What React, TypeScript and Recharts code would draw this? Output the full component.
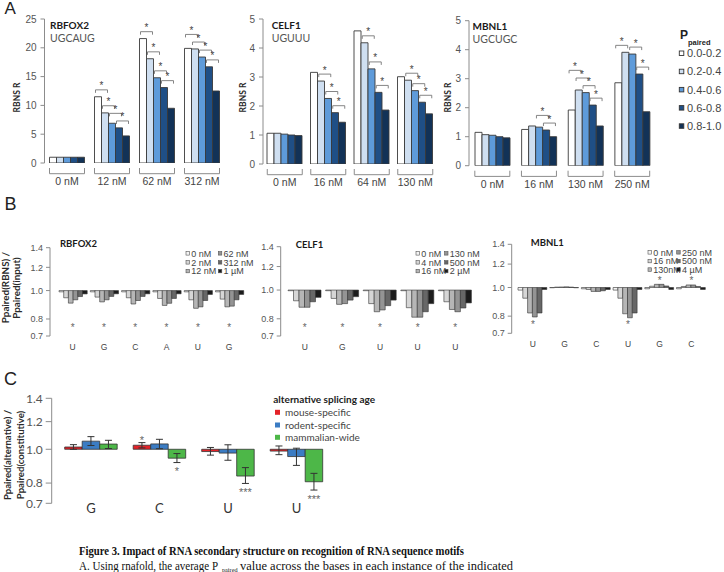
import React from 'react';
import { ComposedChart, Bar, XAxis, YAxis, Scatter, ErrorBar } from 'recharts';

const SANS = '"Liberation Sans", Arial, sans-serif';
const HUM = 'Lato, "Open Sans", sans-serif';
const SERIF = '"Liberation Serif", "Times New Roman", serif';

/* ---------- A: RBNS R per Ppaired bin ---------- */
const pairedBins = ['0.0-0.2', '0.2-0.4', '0.4-0.6', '0.6-0.8', '0.8-1.0'];
const binColors = ['#ffffff', '#cfdff1', '#5e9bda', '#1f4f86', '#123257'];

const rbfox2Conc = ['0 nM', '12 nM', '62 nM', '312 nM'];
const rbfox2R = [
  [1, 1, 1, 1, 1],
  [11.5, 8.7, 6.9, 6.1, 4.7],
  [21.6, 18.1, 14.8, 13.1, 9.5],
  [19.9, 19.8, 18.4, 16.7, 12.5],
];
const rbfox2Sig = [[], [0, 1, 2, 3], [0, 1, 2, 3], [0, 1, 2, 3]];

const celf1Conc = ['0 nM', '16 nM', '64 nM', '130 nM'];
const celf1R = [
  [1.06, 1.06, 1.03, 1.0, 0.98],
  [3.16, 2.86, 2.26, 1.77, 1.44],
  [4.59, 4.18, 3.28, 2.47, 1.86],
  [3.01, 2.89, 2.53, 2.13, 1.73],
];
const celf1Sig = [[], [1, 2, 3], [1, 2, 3], [1, 2, 3]];

const mbnl1Conc = ['0 nM', '16 nM', '130 nM', '250 nM'];
const mbnl1R = [
  [1.15, 1.07, 1.05, 1.0, 0.96],
  [1.25, 1.37, 1.33, 1.23, 1.0],
  [1.92, 2.61, 2.52, 2.09, 1.37],
  [2.86, 3.91, 3.85, 3.16, 1.86],
];
const mbnl1Sig = [[], [2, 3], [0, 1, 2, 3], [0, 2, 3]];

/* ---------- B: Ppaired(RBNS) / Ppaired(input) per motif base ---------- */
const doseGrays = ['#f4f4f4', '#d6d6d6', '#b6b6b6', '#949494', '#676767', '#1c1c1c'];

const rbfox2Bases = ['U', 'G', 'C', 'A', 'U', 'G'];
const rbfox2Doses = ['0 nM', '2 nM', '12 nM', '62 nM', '312 nM', '1 µM'];
const rbfox2Ratio = [
  [0.99, 0.945, 0.906, 0.93, 0.954, 0.974],
  [0.99, 0.95, 0.915, 0.93, 0.955, 0.975],
  [0.99, 0.945, 0.9, 0.925, 0.955, 0.975],
  [0.99, 0.94, 0.89, 0.905, 0.94, 0.975],
  [0.99, 0.93, 0.87, 0.88, 0.925, 0.97],
  [0.99, 0.935, 0.88, 0.885, 0.93, 0.97],
];
const rbfox2Marks = ['low', 'low', 'low', 'low', 'low', 'low'];

const celf1Bases = ['U', 'G', 'U', 'U', 'U'];
const celf1Doses = ['0 nM', '4 nM', '16 nM', '130 nM', '500 nM', '2 µM'];
const celf1Ratio = [
  [0.995, 0.92, 0.875, 0.875, 0.913, 0.945],
  [0.995, 0.937, 0.895, 0.9, 0.925, 0.95],
  [0.995, 0.9, 0.845, 0.857, 0.886, 0.925],
  [0.995, 0.872, 0.81, 0.81, 0.845, 0.9],
  [0.995, 0.913, 0.86, 0.845, 0.87, 0.905],
];
const celf1Marks = ['low', 'low', 'low', 'low', 'low'];

const mbnl1Bases = ['U', 'G', 'C', 'U', 'G', 'C'];
const mbnl1Doses = ['0 nM', '16 nM', '130nM', '250 nM', '500 nM', '4 µM'];
const mbnl1Ratio = [
  [0.98, 0.92, 0.82, 0.795, 0.82, 0.985],
  [0.998, 1.003, 1.004, 1.005, 1.003, 0.998],
  [0.99, 0.985, 0.97, 0.97, 0.975, 0.985],
  [0.98, 0.92, 0.815, 0.79, 0.82, 0.985],
  [0.99, 1.01, 1.025, 1.025, 1.012, 0.985],
  [0.99, 1.008, 1.02, 1.02, 1.008, 0.985],
];
const mbnl1Marks = ['low', '', '', 'low', 'high', 'high'];

const STAR_LOW = 0.762;
const STAR_HIGH = 1.077;
const ratioTicks = [0.7, 0.8, 1.0, 1.2, 1.4];

/* ---------- C: Ppaired(alternative) / Ppaired(constitutive) ---------- */
const spliceAges = ['mouse-specific', 'rodent-specific', 'mammalian-wide'];
const ageColors = ['#e42228', '#3b7cc3', '#4db748'];
const cBases = ['G', 'C', 'U', 'U'];
const cRatio = [
  [1.015, 1.027, 0.985, 0.988],
  [1.055, 1.036, 0.975, 0.953],
  [1.035, 0.943, 0.838, 0.807],
];
const cLow = [
  [1.0, 1.009, 0.962, 0.965],
  [1.025, 1.004, 0.93, 0.899],
  [1.005, 0.916, 0.798, 0.764],
];
const cHigh = [
  [1.031, 1.045, 1.012, 1.022],
  [1.087, 1.068, 1.03, 1.007],
  [1.061, 0.972, 0.886, 0.853],
];
const cSig = [
  ['', '*', '', ''],
  ['', '', '', ''],
  ['', '*', '***', '***'],
];

/* ---------- helpers ---------- */
function buildRowsA(conc: string[], vals: number[][], sig: number[][], max: number) {
  const d = max * 0.048;
  return conc.map((c, gi) => {
    const v = vals[gi];
    const row: any = { conc: c };
    v.forEach((x, i) => (row['p' + i] = x));
    // brackets are stacked right-to-left so neighbouring ones clear each other
    let next = -Infinity;
    for (let k = 3; k >= 0; k--) {
      if (sig[gi].includes(k)) {
        const lvl = Math.max(Math.max(v[k], v[k + 1]) + d, next + d * 1.1);
        row['b' + k] = lvl;
        next = lvl;
      } else {
        row['b' + k] = null;
        next = -Infinity;
      }
    }
    return row;
  });
}

function GroupTick(props: any) {
  const { x, y, payload, span } = props;
  const l = x - span / 2;
  const r = x + span / 2;
  return (
    <g>
      <path d={`M${l},${y + 5}V${y + 10.7}H${r}V${y + 5}`} fill="none" stroke="#8c8c8c" strokeWidth={1} />
      <text x={x} y={y + 21.8} textAnchor="middle" fontSize={10.5} fill="#444" fontFamily={SANS}>
        {payload.value}
      </text>
    </g>
  );
}

function SigBracket(props: any) {
  const { cx, cy, k, w, payload } = props;
  if (!payload || payload['b' + k] == null || !Number.isFinite(cx) || !Number.isFinite(cy)) return <g />;
  const x1 = cx + (k - 2) * w - 2.5;
  const x2 = cx + (k - 1) * w + 2.5;
  return (
    <g>
      <path d={`M${x1},${cy + 3}V${cy}H${x2}V${cy + 3}`} fill="none" stroke="#777" strokeWidth={0.9} />
      <text x={(x1 + x2) / 2} y={cy - 0.5} textAnchor="middle" fontSize={10} fill="#444" fontFamily={SANS}>
        *
      </text>
    </g>
  );
}

const panelA = [
  { conc: rbfox2Conc, vals: rbfox2R, sig: rbfox2Sig, max: 25, ticks: [0, 5, 10, 15, 20, 25],
    left: 0, top: 0, width: 240, height: 200, yw: 44.5, margin: { top: 19, right: 15.5, bottom: 7, left: 0 } },
  { conc: celf1Conc, vals: celf1R, sig: celf1Sig, max: 5, ticks: [0, 1, 2, 3, 4, 5],
    left: 220, top: 0, width: 240, height: 200, yw: 43, margin: { top: 19, right: 23, bottom: 6, left: 0 } },
  { conc: mbnl1Conc, vals: mbnl1R, sig: mbnl1Sig, max: 5, ticks: [0, 1, 2, 3, 4, 5],
    left: 430, top: 0, width: 235, height: 200, yw: 39, margin: { top: 20.7, right: 9.5, bottom: 4.3, left: 0 } },
];

function EnrichmentChart({ conf }: { conf: any }) {
  const rows = buildRowsA(conf.conc, conf.vals, conf.sig, conf.max);
  const bw = 7;
  return (
    <div style={{ position: 'absolute', left: conf.left, top: conf.top }}>
      <ComposedChart width={conf.width} height={conf.height} data={rows} margin={conf.margin} barSize={bw} barGap={0}>
        <XAxis dataKey="conc" interval={0} axisLine={false} tickLine={false} tickSize={0} tickMargin={0} height={30}
          tick={(p: any) => <GroupTick {...p} span={bw * 5} />} />
        <YAxis type="number" domain={[0, conf.max]} ticks={conf.ticks} interval={0} width={conf.yw} allowDataOverflow
          stroke="#8c8c8c" tickSize={4} tickMargin={4} tick={{ fontSize: 10, fill: '#555', fontFamily: SANS }} />
        {pairedBins.map((b, i) => (
          <Bar key={b} dataKey={'p' + i} fill={binColors[i]} stroke="#3a3a3a" strokeWidth={0.9} isAnimationActive={false} />
        ))}
        {[0, 1, 2, 3].map((k) => (
          <Scatter key={k} dataKey={'b' + k} isAnimationActive={false}
            shape={(p: any) => <SigBracket {...p} k={k} w={bw} />} />
        ))}
      </ComposedChart>
    </div>
  );
}

const panelB = [
  { title: 'RBFOX2', bases: rbfox2Bases, ratios: rbfox2Ratio, marks: rbfox2Marks, doses: rbfox2Doses,
    left: 0, top: 225, width: 251, height: 135, yw: 50, xh: 24, pad: 7, bar: 4.7,
    margin: { top: 22.7, right: 6.2, bottom: 0, left: 0 },
    titleX: 60, titleY: 246.6, legX: [186, 218.3], legY: [253.3, 262.3, 271] },
  { title: 'CELF1', bases: celf1Bases, ratios: celf1Ratio, marks: celf1Marks, doses: celf1Doses,
    left: 251, top: 225, width: 240, height: 135, yw: 29.7, xh: 24, pad: 5.3, bar: 5.5,
    margin: { top: 21.7, right: 17, bottom: 0, left: 0 },
    titleX: 295.7, titleY: 247.6, legX: [416, 444.5], legY: [253.3, 262.3, 271] },
  { title: 'MBNL1', bases: mbnl1Bases, ratios: mbnl1Ratio, marks: mbnl1Marks, doses: mbnl1Doses,
    left: 485, top: 225, width: 239, height: 135, yw: 26.7, xh: 26.7, pad: 5.3, bar: 4.8,
    margin: { top: 19.3, right: 16.8, bottom: 0, left: 0 },
    titleX: 530.7, titleY: 245.6, legX: [648, 676.7], legY: [252.3, 261, 269.5] },
];

function BaseTick(props: any) {
  const { x, y, index, bases } = props;
  return (
    <text x={x} y={y + 14} textAnchor="middle" fontSize={8.5} fill="#444" fontFamily={SANS}>
      {bases[index]}
    </text>
  );
}

function StarMark(props: any) {
  const { cx, cy, payload, field, label, dx, size } = props;
  if (!payload || payload[field] == null || !Number.isFinite(cy) || !Number.isFinite(cx)) return <g />;
  const fs = size || 10;
  return (
    <text x={cx + (dx || 0)} y={cy + fs * 0.57} textAnchor="middle" fontSize={fs} fill="#666" fontFamily={SANS}>
      {label}
    </text>
  );
}

function StructureChart({ conf }: { conf: any }) {
  const rows = conf.bases.map((b: string, i: number) => {
    const r: any = { key: String(i), base: b };
    r.star = conf.marks[i] === 'low' ? STAR_LOW : conf.marks[i] === 'high' ? STAR_HIGH : null;
    conf.ratios[i].forEach((v: number, j: number) => (r['s' + j] = [1, v]));
    return r;
  });
  return (
    <div style={{ position: 'absolute', left: conf.left, top: conf.top }}>
      <ComposedChart width={conf.width} height={conf.height} data={rows} margin={conf.margin} barSize={conf.bar} barGap={0}>
        <XAxis dataKey="key" interval={0} axisLine={false} tickLine={false} tickSize={0} tickMargin={0}
          height={conf.xh} padding={{ left: conf.pad, right: 0 }}
          tick={(p: any) => <BaseTick {...p} bases={conf.bases} />} />
        <YAxis type="number" scale="log" domain={[0.7, 1.4]} ticks={ratioTicks} interval={0} width={conf.yw}
          allowDataOverflow stroke="#8c8c8c" tickSize={4} tickMargin={3}
          tickFormatter={(v: number) => v.toFixed(1)}
          tick={{ fontSize: 9, fill: '#555', fontFamily: SANS }} />
        {doseGrays.map((c, j) => (
          <Bar key={j} dataKey={'s' + j} fill={c} stroke="#333" strokeWidth={0.6} isAnimationActive={false} />
        ))}
        <Scatter dataKey="star" isAnimationActive={false}
          shape={(p: any) => <StarMark {...p} field="star" label="*" size={10} />} />
      </ComposedChart>
    </div>
  );
}

function AgeChart() {
  const bw = 17.5;
  const rows = cBases.map((b, i) => {
    const r: any = { key: String(i), base: b };
    spliceAges.forEach((_, s) => {
      const v = cRatio[s][i];
      r['r' + s] = [1, v];
      r['e' + s] = [v - cLow[s][i], cHigh[s][i] - v];
      r['t' + s] = cSig[s][i] ? (v >= 1 ? cHigh[s][i] * 1.03 : cLow[s][i] * 0.957) : null;
    });
    return r;
  });
  return (
    <div style={{ position: 'absolute', left: 0, top: 380 }}>
      <ComposedChart width={340} height={140} data={rows} margin={{ top: 18.3, right: 9.3, bottom: 0, left: 0 }}
        barSize={bw} barGap={0}>
        <XAxis dataKey="key" interval={0} axisLine={false} tickLine={false} tickSize={0} tickMargin={0}
          height={16.7} padding={{ left: 5, right: 0 }}
          tick={(p: any) => (
            <text x={p.x} y={p.y + 9.6} textAnchor="middle" fontSize={13} fill="#333" fontFamily={HUM}>
              {cBases[p.index]}
            </text>
          )} />
        <YAxis type="number" scale="log" domain={[0.7, 1.4]} ticks={ratioTicks} interval={0} width={51.7}
          allowDataOverflow stroke="#8c8c8c" tickSize={6} tickMargin={3}
          tickFormatter={(v: number) => v.toFixed(1)}
          tick={{ fontSize: 12, fill: '#555', fontFamily: HUM }} />
        {spliceAges.map((a, s) => (
          <Bar key={a} dataKey={'r' + s} fill={ageColors[s]} stroke="#333" strokeWidth={0.8} isAnimationActive={false}>
            <ErrorBar dataKey={'e' + s} width={3.5} strokeWidth={1} stroke="#333" direction="y" />
          </Bar>
        ))}
        {spliceAges.map((a, s) => (
          <Scatter key={'t' + a} dataKey={'t' + s} isAnimationActive={false}
            shape={(p: any) => (
              <StarMark {...p} field={'t' + s} label={p.payload ? cSig[s][Number(p.payload.key)] : ''}
                dx={(s - 1) * bw} size={11} />
            )} />
        ))}
      </ComposedChart>
    </div>
  );
}

function RotLabel({ x, y, text, size, weight }: any) {
  return (
    <text transform={`translate(${x},${y}) rotate(-90)`} textAnchor="middle" dominantBaseline="central"
      fontSize={size} fontWeight={weight || 700} fill="#2a2a2a" fontFamily={HUM}>
      {text}
    </text>
  );
}

const aTitles = [
  { name: 'RBFOX2', motif: 'UGCAUG', x: 50, y: 28.6, lx: 17 },
  { name: 'CELF1', motif: 'UGUUU', x: 271.7, y: 28.6, lx: 243 },
  { name: 'MBNL1', motif: 'UGCUGC', x: 472.5, y: 30.3, lx: 447.5 },
];

function Overlay() {
  return (
    <svg width={724} height={572} style={{ position: 'absolute', left: 0, top: 0, pointerEvents: 'none' }}>
      {/* panel letters */}
      <text x={4.5} y={13.5} fontSize={17} fill="#222" fontFamily={SANS}>A</text>
      <text x={4.5} y={210} fontSize={18} fill="#222" fontFamily={SANS}>B</text>
      <text x={4} y={385} fontSize={18} fill="#222" fontFamily={SANS}>C</text>

      {/* A: titles, motifs, axis labels */}
      {aTitles.map((t) => (
        <g key={t.name}>
          <text x={t.x} y={t.y} fontSize={10} fontWeight={700} fill="#1a1a1a" fontFamily={HUM}>{t.name}</text>
          <text x={t.x} y={t.y + 13.1} fontSize={10.5} fill="#555" fontFamily={HUM}>{t.motif}</text>
          <RotLabel x={t.lx} y={97.5} text="RBNS R" size={8.5} />
        </g>
      ))}

      {/* A: legend */}
      <text x={680} y={38.6} fontSize={12} fontWeight={700} fill="#222" fontFamily={SANS}>P</text>
      <text x={688} y={44.5} fontSize={7.5} fontWeight={700} fill="#222" fontFamily={SANS}>paired</text>
      {pairedBins.map((b, i) => {
        const cy = 53.3 + i * 18.2;
        return (
          <g key={b}>
            <rect x={679.3} y={cy - 2.3} width={4.5} height={4.5} fill={binColors[i]} stroke="#333" strokeWidth={0.9} />
            <text x={687} y={cy + 3.9} fontSize={11} fill="#444" fontFamily={SANS}>{b}</text>
          </g>
        );
      })}

      {/* B: titles, legends */}
      {panelB.map((c) => (
        <g key={c.title}>
          <text x={c.titleX} y={c.titleY} fontSize={9.5} fontWeight={700} fill="#1a1a1a" fontFamily={HUM}>{c.title}</text>
          {c.doses.map((d, j) => {
            const col = j < 3 ? 0 : 1;
            const cy = c.legY[j % 3];
            return (
              <g key={d}>
                <rect x={c.legX[col]} y={cy - 1.7} width={3.5} height={3.5} fill={doseGrays[j]} stroke="#555" strokeWidth={0.6} />
                <text x={c.legX[col] + 5.3} y={cy + 3.2} fontSize={9} fill="#444" fontFamily={SANS}>{d}</text>
              </g>
            );
          })}
        </g>
      ))}
      <RotLabel x={5} y={287.5} text="Ppaired(RBNS) /" size={9.8} />
      <RotLabel x={16.3} y={288} text="Ppaired(input)" size={9.8} />

      {/* C: axis label and legend */}
      <RotLabel x={7.5} y={455} text="Ppaired(alternative) /" size={9.6} />
      <RotLabel x={20} y={455} text="Ppaired(constitutive)" size={9.6} />
      <text x={273.3} y={402.6} fontSize={10} fontWeight={700} fill="#222" fontFamily={HUM}>alternative splicing age</text>
      {spliceAges.map((a, s) => {
        const cy = [412.3, 425, 437.3][s];
        return (
          <g key={a}>
            <rect x={275} y={cy - 2.5} width={5} height={5} fill={ageColors[s]} />
            <text x={285} y={cy + 3.6} fontSize={10} fill="#444" fontFamily={HUM}>{a}</text>
          </g>
        );
      })}

      {/* caption */}
      <text x={79} y={554.8} fontSize={11.5} fontWeight={700} fill="#111" fontFamily={SERIF}
        textLength={385} lengthAdjust="spacingAndGlyphs">
        Figure 3. Impact of RNA secondary structure on recognition of RNA sequence motifs
      </text>
      <text x={79} y={569.5} fontSize={11.5} fill="#111" fontFamily={SERIF} textLength={139} lengthAdjust="spacingAndGlyphs">
        A. Using rnafold, the average P
      </text>
      <text x={222} y={571.5} fontSize={7} fill="#111" fontFamily={SERIF} textLength={15.5} lengthAdjust="spacingAndGlyphs">
        paired
      </text>
      <text x={240} y={569.5} fontSize={11.5} fill="#111" fontFamily={SERIF} textLength={273} lengthAdjust="spacingAndGlyphs">
        value across the bases in each instance of the indicated
      </text>
    </svg>
  );
}

export default function App() {
  return (
    <div style={{ position: 'absolute', left: 0, top: 0, width: 724, height: 572, overflow: 'hidden', background: '#fff' }}>
      {panelA.map((c, i) => (
        <EnrichmentChart key={i} conf={c} />
      ))}
      {panelB.map((c) => (
        <StructureChart key={c.title} conf={c} />
      ))}
      <AgeChart />
      <Overlay />
    </div>
  );
}
